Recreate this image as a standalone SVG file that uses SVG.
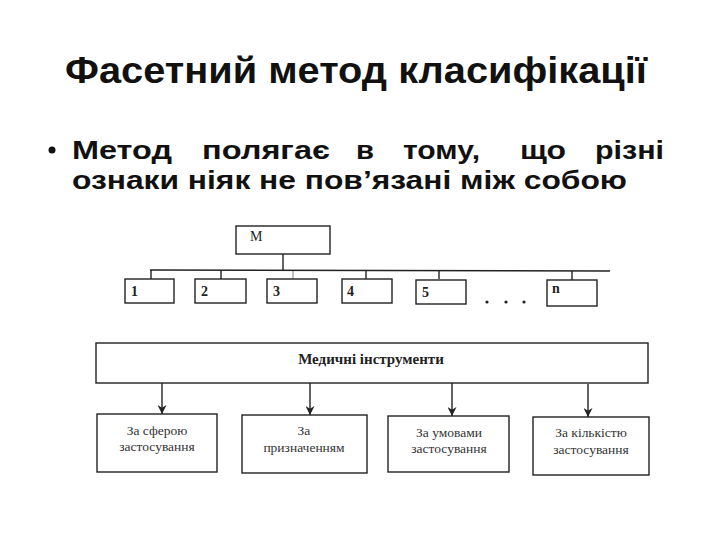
<svg xmlns="http://www.w3.org/2000/svg" width="720" height="540" viewBox="0 0 720 540">
<defs>
<style>
.title{font-family:"Liberation Sans",Arial,sans-serif;font-weight:bold;fill:#111;}
.body{font-family:"Liberation Sans",Arial,sans-serif;font-weight:bold;fill:#111;font-size:26.5px;}
.box{fill:#fff;stroke:#222;stroke-width:1.4;}
.lbl{font-family:"Liberation Serif","Times New Roman",serif;fill:#222;font-size:14px;}
.lbl2{font-family:"Liberation Serif","Times New Roman",serif;fill:#333;font-size:13.5px;text-anchor:middle;}
.ln{stroke:#222;stroke-width:1.4;fill:none;}
</style>
<marker id="ah" viewBox="0 0 10 10" refX="10" refY="5" markerWidth="9" markerHeight="9" markerUnits="userSpaceOnUse" orient="auto">
<path d="M0,0 L10,5 L0,10 L3,5 z" fill="#222"/>
</marker>
</defs>
<rect width="720" height="540" fill="#fff"/>

<g id="title">
<text class="title" x="65" y="83" font-size="37" textLength="582" lengthAdjust="spacingAndGlyphs">Фасетний метод класифікації</text>
</g>

<g id="bullet">
<circle cx="52" cy="150" r="3.5" fill="#111"/>
<text class="body" x="72" y="159" textLength="100" lengthAdjust="spacingAndGlyphs">Метод</text>
<text class="body" x="202" y="159" textLength="128" lengthAdjust="spacingAndGlyphs">полягає</text>
<text class="body" x="356" y="159" textLength="18" lengthAdjust="spacingAndGlyphs">в</text>
<text class="body" x="403" y="159" textLength="77" lengthAdjust="spacingAndGlyphs">тому,</text>
<text class="body" x="520" y="159" textLength="46" lengthAdjust="spacingAndGlyphs">що</text>
<text class="body" x="595" y="159" textLength="69" lengthAdjust="spacingAndGlyphs">різні</text>
<text class="body" x="72" y="189" textLength="555" lengthAdjust="spacingAndGlyphs">ознаки ніяк не пов’язані між собою</text>
</g>

<g id="connectors">
<line class="ln" x1="283" y1="254" x2="283" y2="270"/>
<line class="ln" x1="150" y1="270" x2="610" y2="271"/>
<line class="ln" x1="151" y1="270" x2="151" y2="279"/>
<line class="ln" x1="221" y1="270" x2="221" y2="279"/>
<line class="ln" x1="293" y1="270" x2="293" y2="279" stroke-opacity="0.4"/>
<line class="ln" x1="366" y1="270" x2="366" y2="279"/>
<line class="ln" x1="439" y1="270" x2="439" y2="279"/>
<line class="ln" x1="572" y1="271" x2="572" y2="280"/>
<line class="ln" x1="162" y1="382" x2="162" y2="414" marker-end="url(#ah)"/>
<line class="ln" x1="310" y1="383" x2="310" y2="415" marker-end="url(#ah)"/>
<line class="ln" x1="452" y1="383" x2="452" y2="416" marker-end="url(#ah)"/>
<line class="ln" x1="588" y1="384" x2="588" y2="417" marker-end="url(#ah)"/>
</g>

<g id="node-M">
<rect class="box" x="236" y="226" width="94" height="28"/>
<text class="lbl" x="250" y="241">M</text>
</g>
<g id="node-1">
<rect class="box" x="125" y="279" width="49" height="24"/>
<text class="lbl" x="131" y="296" font-weight="bold">1</text>
</g>
<g id="node-2">
<rect class="box" x="195" y="279" width="51" height="24"/>
<text class="lbl" x="201" y="296" font-weight="bold">2</text>
</g>
<g id="node-3">
<rect class="box" x="267" y="279" width="50" height="24"/>
<text class="lbl" x="273" y="296" font-weight="bold">3</text>
</g>
<g id="node-4">
<rect class="box" x="342" y="279" width="50" height="24"/>
<text class="lbl" x="347" y="296" font-weight="bold">4</text>
</g>
<g id="node-5">
<rect class="box" x="416" y="280" width="50" height="24"/>
<text class="lbl" x="422" y="297" font-weight="bold">5</text>
</g>
<g id="dots">
<circle cx="487" cy="302" r="1.6" fill="#222"/>
<circle cx="506" cy="302" r="1.6" fill="#222"/>
<circle cx="524" cy="302" r="1.6" fill="#222"/>
</g>
<g id="node-n">
<rect class="box" x="547" y="280" width="50" height="26"/>
<text class="lbl" x="552" y="293" font-weight="bold">n</text>
</g>

<g id="node-med">
<rect class="box" x="96" y="343" width="552" height="40"/>
<text x="371" y="364" text-anchor="middle" font-family="'Liberation Serif','Times New Roman',serif" font-weight="bold" font-size="15" fill="#222">Медичні інструменти</text>
</g>
<g id="node-a">
<rect class="box" x="97" y="414" width="120" height="58"/>
<text class="lbl2" x="157" y="435">За сферою</text>
<text class="lbl2" x="157" y="451">застосування</text>
</g>
<g id="node-b">
<rect class="box" x="242" y="415" width="125" height="58"/>
<text class="lbl2" x="304" y="435">За</text>
<text class="lbl2" x="304" y="452">призначенням</text>
</g>
<g id="node-c">
<rect class="box" x="388" y="416" width="121" height="56"/>
<text class="lbl2" x="449" y="437">За умовами</text>
<text class="lbl2" x="449" y="453">застосування</text>
</g>
<g id="node-d">
<rect class="box" x="533" y="417" width="116" height="58"/>
<text class="lbl2" x="591" y="437">За кількістю</text>
<text class="lbl2" x="591" y="454">застосування</text>
</g>
</svg>
